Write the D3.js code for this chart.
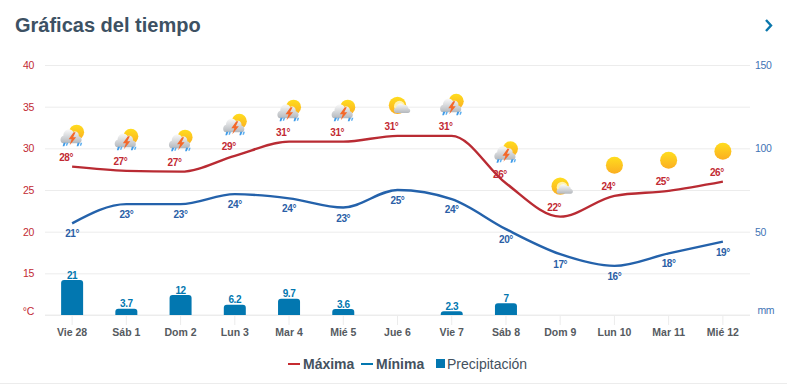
<!DOCTYPE html>
<html>
<head>
<meta charset="utf-8" />
<title>Gráficas del tiempo</title>
<style>
html, body {
    padding: 0px;
    margin: 0px;
    background: #fff;
}

svg {
    display: block;
    font-family: "Liberation Sans", Arial, sans-serif;
}

.grid line, .xAxis line {
    stroke: #ececec;
}

.grid path, .xAxis path {
    display: none;
}

.tempAxis text {
    fill: #c22a33;
    font-size: 10.5px;
    letter-spacing: -0.3px;
}

.rainAxis text {
    fill: #3f74b5;
    font-size: 10.5px;
    letter-spacing: -0.4px;
}

.xAxis text {
    fill: #555a60;
    font-size: 10.5px;
    font-weight: bold;
}

.valueLabel {
    font-size: 10px;
    font-weight: bold;
    letter-spacing: -0.4px;
}
</style>
</head>
<body>
<div id="chart"></div>

<script src="https://d3js.org/d3.v7.min.js"></script>
<script>
var days = ["Vie 28", "Sáb 1", "Dom 2", "Lun 3", "Mar 4", "Mié 5", "Jue 6", "Vie 7", "Sáb 8", "Dom 9", "Lun 10", "Mar 11", "Mié 12"];
var maxTemp = [27.8, 27.3, 27.2, 29.1, 30.8, 30.8, 31.5, 31.5, 25.8, 21.8, 24.3, 24.9, 26];
var minTemp = [21, 23.3, 23.3, 24.5, 24, 22.9, 25, 23.9, 20.3, 17.3, 15.9, 17.4, 18.8];
var maxLabels = [28, 27, 27, 29, 31, 31, 31, 31, 26, 22, 24, 25, 26];
var minLabels = [21, 23, 23, 24, 24, 23, 25, 24, 20, 17, 16, 18, 19];
var rain = [21, 3.7, 12, 6.2, 9.7, 3.6, 0, 2.3, 7, 0, 0, 0, 0];
var icons = ["storm", "storm", "storm", "storm", "storm", "storm", "partly", "storm", "storm", "partly", "sun", "sun", "sun"];
var tempTicks = [10, 15, 20, 25, 30, 35, 40];
var rainTicks = [0, 50, 100, 150];

var width = 787, height = 384;
var left = 45, right = 750, top_ = 65, bottom = 315;

var svg = d3.select("#chart").append("svg")
    .attr("width", width)
    .attr("height", height);

var defs = svg.append("defs");

function gradient(id, stops) {
    var g = defs.append("linearGradient").attr("id", id)
        .attr("x1", 0).attr("y1", 0).attr("x2", 0).attr("y2", 1);
    stops.forEach(function(s) {
        g.append("stop").attr("offset", s[0]).attr("stop-color", s[1]);
    });
}
gradient("sunFill", [[0, "#ffdd1e"], [1, "#fbae22"]]);
gradient("cloudFill", [[0, "#fafafa"], [1, "#b4b8bd"]]);

var x = d3.scaleBand().domain(days).range([left, right]);
var yTemp = d3.scaleLinear().domain([10, 40]).range([bottom, top_]);
var yRain = d3.scaleLinear().domain([0, 150]).range([bottom, top_]);

function cx(i) {
    return x(days[i]) + x.bandwidth() / 2;
}

// title + chevron
svg.append("text")
    .attr("x", 15).attr("y", 32)
    .attr("font-size", 20).attr("font-weight", "bold")
    .attr("fill", "#3d5163")
    .text("Gráficas del tiempo");

svg.append("path")
    .attr("d", d3.line()([[766, 20], [771, 25.5], [766, 31]]))
    .attr("fill", "none")
    .attr("stroke", "#0b77ac")
    .attr("stroke-width", 2.4);

// axes
svg.append("g")
    .attr("class", "grid tempAxis")
    .attr("transform", "translate(" + left + ",0)")
    .call(d3.axisLeft(yTemp)
        .tickValues(tempTicks)
        .tickSize(-(right - left))
        .tickPadding(11)
        .tickFormat(function(d) { return d == 10 ? "°C" : d; }))
    .call(function(g) {
        g.selectAll("text").filter(function(d) { return d == 10; }).attr("y", -4);
    });

svg.append("g")
    .attr("class", "rainAxis")
    .attr("transform", "translate(" + right + ",0)")
    .call(d3.axisRight(yRain)
        .tickValues(rainTicks)
        .tickSize(0)
        .tickPadding(5)
        .tickFormat(function(d) { return d == 0 ? "mm" : d; }))
    .call(function(g) {
        g.select("path").remove();
        g.selectAll("text").filter(function(d) { return d == 0; }).attr("dy", "-0.1em").attr("x", 7.5);
    });

svg.append("g")
    .attr("class", "xAxis")
    .attr("transform", "translate(0," + bottom + ")")
    .call(d3.axisBottom(x).tickSize(10).tickPadding(4))
    .call(function(g) {
        g.append("line")
            .attr("x1", left).attr("x2", right)
            .attr("stroke", "#e6e6e6");
    });

// rain bars, top corners rounded
function barPath(v, i) {
    var w = 22, x0 = cx(i) - w / 2, y0 = yRain(v), h = bottom - y0, r = Math.min(3, h);
    var p = d3.path();
    p.moveTo(x0, bottom);
    p.lineTo(x0, y0 + r);
    p.quadraticCurveTo(x0, y0, x0 + r, y0);
    p.lineTo(x0 + w - r, y0);
    p.quadraticCurveTo(x0 + w, y0, x0 + w, y0 + r);
    p.lineTo(x0 + w, bottom);
    p.closePath();
    return p.toString();
}

var rainIdx = d3.range(rain.length).filter(function(i) { return rain[i] > 0; });

svg.append("g").selectAll("path")
    .data(rainIdx)
    .enter().append("path")
    .attr("d", function(i) { return barPath(rain[i], i); })
    .attr("fill", "#0277b0");

svg.append("g").selectAll("text")
    .data(rainIdx)
    .enter().append("text")
    .attr("class", "valueLabel")
    .attr("x", function(i) { return cx(i); })
    .attr("y", function(i) { return yRain(rain[i]) - 1.5; })
    .attr("text-anchor", "middle")
    .attr("fill", "#0277b0")
    .text(function(i) { return rain[i]; });

// temperature lines
var line = d3.line()
    .x(function(d, i) { return cx(i); })
    .y(function(d) { return yTemp(d); })
    .curve(d3.curveMonotoneX);

svg.append("path")
    .attr("d", line(maxTemp))
    .attr("fill", "none")
    .attr("stroke", "#b92b33")
    .attr("stroke-width", 2.4);

svg.append("path")
    .attr("d", line(minTemp))
    .attr("fill", "none")
    .attr("stroke", "#2462ab")
    .attr("stroke-width", 2.4);

svg.append("g").selectAll("text")
    .data(maxTemp)
    .enter().append("text")
    .attr("class", "valueLabel")
    .attr("x", function(d, i) { return cx(i) - 6; })
    .attr("y", function(d) { return yTemp(d) - 5.5; })
    .attr("text-anchor", "middle")
    .attr("fill", "#c22a33")
    .text(function(d, i) { return maxLabels[i] + "°"; });

svg.append("g").selectAll("text")
    .data(minTemp)
    .enter().append("text")
    .attr("class", "valueLabel")
    .attr("x", function(d, i) { return cx(i); })
    .attr("y", function(d) { return yTemp(d) + 14; })
    .attr("text-anchor", "middle")
    .attr("fill", "#2a5ea6")
    .text(function(d, i) { return minLabels[i] + "°"; });

// weather icons above the max line
var cloudShape = "M-7.5,6 C-11,6 -11,0.5 -7.5,0 C-7.5,-5 -1,-7 1.5,-3 C4.5,-4 7,-2 6.5,0.5 C10,1 10,6 6.5,6 Z";

function drawCloud(g, dx, dy, sx, sy) {
    g.append("path")
        .attr("transform", "translate(" + dx + "," + dy + ") scale(" + sx + "," + sy + ")")
        .attr("d", cloudShape)
        .attr("fill", "url(#cloudFill)");
}

function drawSun(g, dx, dy, r) {
    g.append("circle")
        .attr("cx", dx).attr("cy", dy).attr("r", r)
        .attr("fill", "url(#sunFill)");
}

var iconG = svg.append("g").selectAll("g")
    .data(icons)
    .enter().append("g")
    .attr("transform", function(d, i) {
        return "translate(" + cx(i) + "," + (yTemp(maxTemp[i]) - 30.5) + ")";
    });

iconG.each(function(type) {
    var g = d3.select(this);
    if (type == "sun") {
        drawSun(g, 0, 0, 8.5);
    } else if (type == "partly") {
        drawSun(g, 0, 0, 8.7);
        g.append("circle").attr("cx", 2).attr("cy", 1).attr("r", 5.5).attr("fill", "#fff3b0");
        drawCloud(g, 5, 2.5, 0.85, 0.85);
    } else {
        drawSun(g, 4.5, -4, 7.5);
        drawCloud(g, -0.5, -0.5, 1.1, 1.25);
        g.append("path")
            .attr("d", "M1.5,-4 L-3.5,3 L-0.5,3 L-2.5,9 L4,1 L1,1 L3.5,-4 Z")
            .attr("fill", "#f4682a");
        [-8.5, 5.5].forEach(function(dx) {
            g.append("path")
                .attr("d", "M" + dx + ",6.5 l2.2,0 l-1.5,3.5 l-1.7,0 Z")
                .attr("fill", "#3f9be8");
        });
        [-5.5, 8.5].forEach(function(dx) {
            g.append("path")
                .attr("d", "M" + dx + ",6.5 l1.6,0 l-1,3 l-1.4,0 Z")
                .attr("fill", "#5aaef0");
        });
    }
});

// legend
var legendY = 364;
function legendDash(x0, color) {
    svg.append("line")
        .attr("x1", x0).attr("x2", x0 + 12)
        .attr("y1", legendY).attr("y2", legendY)
        .attr("stroke", color)
        .attr("stroke-width", 2);
}
function legendText(x0, txt, weight) {
    svg.append("text")
        .attr("x", x0).attr("y", legendY + 4.5)
        .attr("font-size", 14)
        .attr("font-weight", weight)
        .attr("fill", "#44515e")
        .text(txt);
}
legendDash(288, "#c62b30");
legendText(303, "Máxima", "bold");
legendDash(361, "#0277b0");
legendText(376, "Mínima", "bold");
svg.append("rect")
    .attr("x", 436).attr("y", 359)
    .attr("width", 9).attr("height", 9)
    .attr("fill", "#0277b0");
legendText(447, "Precipitación", "normal");

svg.append("line")
    .attr("x1", 0).attr("x2", width)
    .attr("y1", 383.5).attr("y2", 383.5)
    .attr("stroke", "#ececec");
</script>
</body>
</html>
